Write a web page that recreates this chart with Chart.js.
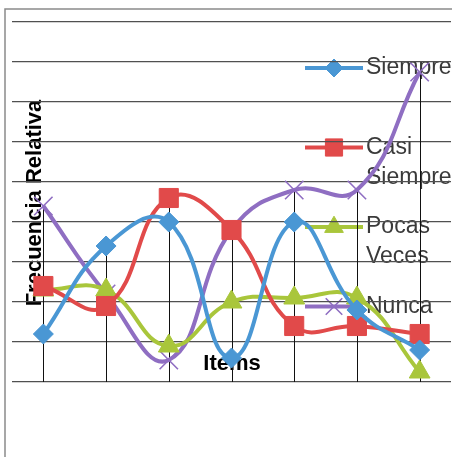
<!DOCTYPE html>
<html>
<head>
<meta charset="utf-8">
<script src="https://cdn.jsdelivr.net/npm/chart.js@4/dist/chart.umd.min.js"></script>
<style>
  html, body { margin: 0; padding: 0; background: #ffffff; }
  canvas { display: block; }
</style>
</head>
<body>
<canvas id="chart" width="452" height="457"></canvas>
<script>
// Items on the category axis
const categories = ['1', '2', '3', '4', '5', '6', '7'];

// Relative frequency of each answer, per item
const siempre     = [0.06, 0.17, 0.20, 0.03, 0.20, 0.09, 0.04];
const casiSiempre = [0.12, 0.095, 0.23, 0.19, 0.07, 0.07, 0.06];
const pocasVeces  = [0.115, 0.115, 0.045, 0.10, 0.105, 0.105, 0.0125];
const nunca       = [0.22, 0.11, 0.0275, 0.19, 0.24, 0.24, 0.3875];

const seriesNames = ['Siempre', 'Casi Siempre', 'Pocas Veces', 'Nunca'];

// Value axis range (ticks themselves are not printed)
const yMin = 0;
const yMax = 0.45;
const yStep = 0.05;

const yTitle = 'Frecuencia Relativa';
const xTitle = 'Items';

const FONT = "'Liberation Sans', Arial, sans-serif";

const styles = [
  { color: '#4A97D4', pointStyle: 'rectRot',  radius: 10,   border: 1 },
  { color: '#E14A4A', pointStyle: 'rect',     radius: 13.5, border: 1 },
  { color: '#A9C63B', pointStyle: 'triangle', radius: 12,   border: 1 },
  { color: '#8F6EC2', pointStyle: 'crossRot', radius: 13,   border: 1.6 }
];

const seriesValues = [siempre, casiSiempre, pocasVeces, nunca];

const datasets = seriesValues.map((vals, i) => ({
  label: seriesNames[i],
  data: vals,
  borderColor: styles[i].color,
  backgroundColor: styles[i].color,
  borderWidth: 4,
  tension: 0.45,
  pointStyle: styles[i].pointStyle,
  pointRadius: styles[i].radius,
  pointHoverRadius: styles[i].radius,
  pointBorderWidth: styles[i].border,
  pointBackgroundColor: styles[i].color,
  pointBorderColor: styles[i].color,
  fill: false
}));

function wrapWords(ctx, text, maxWidth) {
  const words = text.split(' ');
  const lines = [];
  let cur = '';
  words.forEach(w => {
    const test = cur ? cur + ' ' + w : w;
    if (cur && ctx.measureText(test).width > maxWidth) {
      lines.push(cur);
      cur = w;
    } else {
      cur = test;
    }
  });
  if (cur) lines.push(cur);
  return lines;
}

// Frame, axis titles and the legend sit underneath the grid and the series
const backdrop = {
  id: 'backdrop',
  beforeDraw(chart) {
    const ctx = chart.ctx;
    ctx.save();
    ctx.fillStyle = '#ffffff';
    ctx.fillRect(0, 0, chart.width, chart.height);

    // outer frame (top and left edges)
    ctx.strokeStyle = '#8a8a8a';
    ctx.lineWidth = 1.5;
    ctx.beginPath();
    ctx.moveTo(5, chart.height);
    ctx.lineTo(5, 9);
    ctx.lineTo(chart.width, 9);
    ctx.stroke();

    // axis titles
    ctx.fillStyle = '#000000';
    ctx.font = 'bold 22px ' + FONT;
    ctx.textAlign = 'center';
    ctx.textBaseline = 'middle';
    ctx.fillText(xTitle, 232, 364);
    ctx.translate(35, 203);
    ctx.rotate(-Math.PI / 2);
    ctx.fillText(yTitle, 0, 0);
    ctx.restore();

    // legend
    ctx.save();
    ctx.font = '23px ' + FONT;
    ctx.textAlign = 'left';
    ctx.textBaseline = 'middle';
    chart.data.datasets.forEach((ds, i) => {
      const y = 68 + i * 79.5;
      ctx.strokeStyle = ds.borderColor;
      ctx.lineWidth = 4;
      ctx.beginPath();
      ctx.moveTo(305, y);
      ctx.lineTo(363, y);
      ctx.stroke();
      ctx.fillStyle = ds.pointBackgroundColor;
      ctx.strokeStyle = ds.pointBorderColor;
      ctx.lineWidth = ds.pointBorderWidth;
      Chart.helpers.drawPoint(ctx, {
        pointStyle: ds.pointStyle,
        radius: ds.pointRadius * 0.9,
        rotation: 0,
        borderWidth: ds.pointBorderWidth
      }, 334, y);
      ctx.fillStyle = '#3a3a3a';
      const lines = wrapWords(ctx, ds.label, 90);
      lines.forEach((ln, k) => ctx.fillText(ln, 366, y + k * 30));
    });
    ctx.restore();
  }
};

// Drop lines from the highest point of each item down to the category axis
const dropLines = {
  id: 'dropLines',
  beforeDatasetsDraw(chart) {
    const ctx = chart.ctx;
    const xs = chart.scales.x;
    const ys = chart.scales.y;
    ctx.save();
    ctx.strokeStyle = '#111111';
    ctx.lineWidth = 1;
    categories.forEach((c, i) => {
      const top = Math.max(...chart.data.datasets.map(ds => ds.data[i]));
      const x = Math.round(xs.getPixelForValue(i)) + 0.5;
      ctx.beginPath();
      ctx.moveTo(x, ys.getPixelForValue(top));
      ctx.lineTo(x, ys.getPixelForValue(yMin));
      ctx.stroke();
    });
    ctx.restore();
  }
};

new Chart(document.getElementById('chart'), {
  type: 'line',
  data: { labels: categories, datasets },
  options: {
    responsive: false,
    animation: false,
    events: [],
    layout: { autoPadding: false, padding: { left: 12, top: 22, right: 1, bottom: 75 } },
    plugins: {
      legend: { display: false },
      tooltip: { enabled: false },
      title: { display: false }
    },
    scales: {
      x: {
        type: 'category',
        offset: true,
        grid: { display: false, drawTicks: false },
        border: { display: false },
        ticks: { display: false }
      },
      y: {
        min: yMin,
        max: yMax,
        ticks: { display: false, stepSize: yStep },
        grid: { color: '#505050', lineWidth: 1.3, drawTicks: false },
        border: { display: false }
      }
    }
  },
  plugins: [backdrop, dropLines]
});
</script>
</body>
</html>
